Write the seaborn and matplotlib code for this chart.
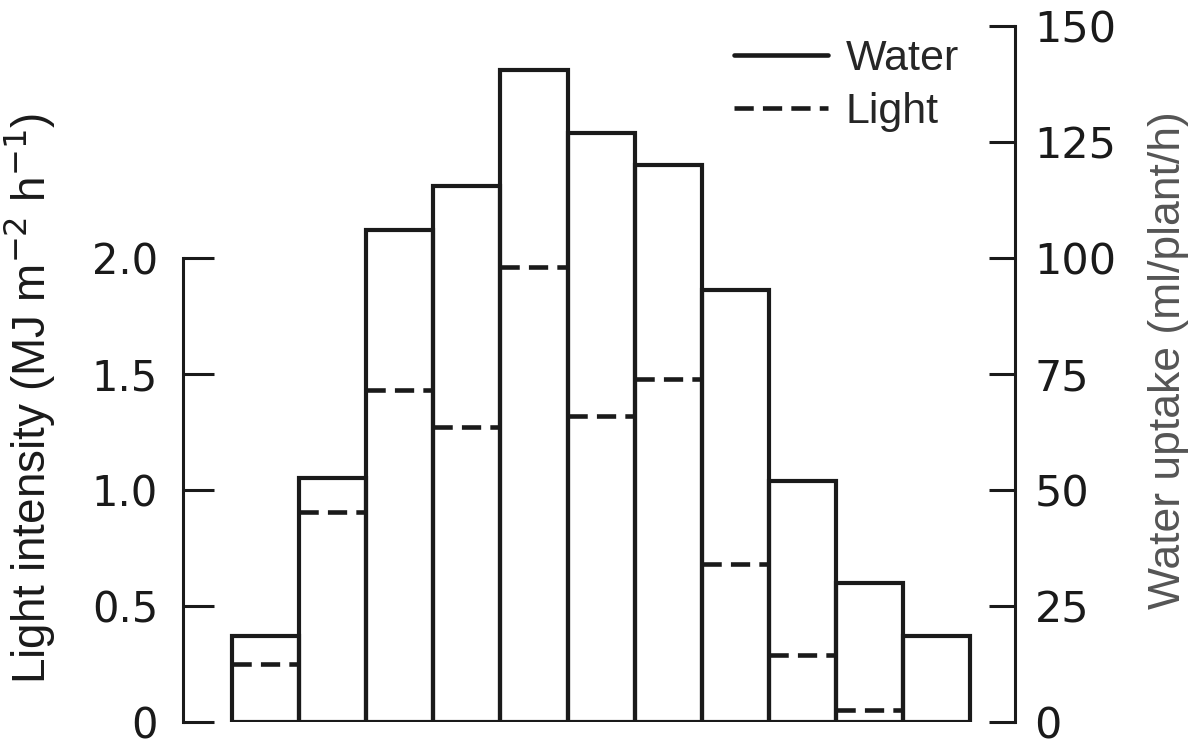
import matplotlib
matplotlib.use('Agg')
import matplotlib.pyplot as plt
from matplotlib.lines import Line2D
import numpy as np
import pandas as pd
import seaborn as sns

sns.set_style('white')
plt.rcParams['font.family'] = ['Liberation Sans', 'DejaVu Sans']

# hourly intervals (not labelled on the original chart)
hours = ['7', '8', '9', '10', '11', '12', '13', '14', '15', '16', '17']
water = [18.5, 52.5, 106, 115.5, 140.5, 127, 120, 93, 52, 30, 18.5]          # ml/plant/h
light = [0.25, 0.905, 1.43, 1.27, 1.96, 1.32, 1.48, 0.68, 0.29, 0.05, np.nan]  # MJ m-2 h-1

df = pd.DataFrame({'hour': hours, 'water': water, 'light': light})

fig = plt.figure(figsize=(11.98, 7.48), dpi=100)
ax = fig.add_axes([0.1528, 0.0348, 0.6945, 0.9305])
ax2 = ax.twinx()

sns.barplot(data=df, x='hour', y='water', ax=ax2, fill=False, color='#1a1a1a',
            width=1.0, linewidth=3, errorbar=None)

pos = np.arange(len(hours))
ok = ~df['light'].isna()
ax.hlines(df['light'][ok], pos[ok] - 0.5, pos[ok] + 0.5, colors='#1a1a1a',
          linewidth=3.3, linestyles=(0, (4.2, 2.0)))

ax.set_xlim(-1.23, 11.17)
ax2.set_xlim(-1.23, 11.17)
ax.set_ylim(0, 3.0)
ax2.set_ylim(0, 150)

ax.set_yticks([0, 0.5, 1.0, 1.5, 2.0])
ax.set_yticklabels(['0', '0.5', '1.0', '1.5', '2.0'])
ax2.set_yticks([0, 25, 50, 75, 100, 125, 150])

for a in (ax, ax2):
    a.set_xticks([])
    a.set_xlabel('')
    a.spines['top'].set_visible(False)
    a.spines['bottom'].set_visible(False)
    for s in a.spines.values():
        s.set_linewidth(2.2)
        s.set_color('#1a1a1a')
ax.spines['right'].set_visible(False)
ax2.spines['left'].set_visible(False)
ax.spines['left'].set_bounds(0, 2.0)

ax.tick_params(axis='y', direction='in', length=22, width=2.2, pad=18,
               labelsize=30, colors='#1a1a1a', left=True)
ax2.tick_params(axis='y', direction='in', length=19, width=2.2, pad=14,
                labelsize=31, colors='#1a1a1a', right=True)
for lab in ax.get_yticklabels() + ax2.get_yticklabels():
    lab.set_family('DejaVu Sans')

ax.set_ylabel('Light intensity (MJ m$^{-2}$ h$^{-1}$)', fontsize=33,
              color='#1a1a1a')
ax.yaxis.set_label_coords(-0.152, 0.465)
ax2.set_ylabel('Water uptake (ml/plant/h)', fontsize=32, color='#555555')
ax2.yaxis.set_label_coords(1.16, 0.52)

handles = [Line2D([], [], color='#1a1a1a', linewidth=3.3),
           Line2D([], [], color='#1a1a1a', linewidth=3.3, linestyle=(0, (4.2, 2.0)))]
leg = fig.legend(handles, ['Water', 'Light'], loc='upper left',
                 bbox_to_anchor=(0.58, 1.0), frameon=False, fontsize=31,
                 handlelength=2.2, handletextpad=0.4, labelspacing=0.3)

fig.savefig('out.png', dpi=100, facecolor='white')
